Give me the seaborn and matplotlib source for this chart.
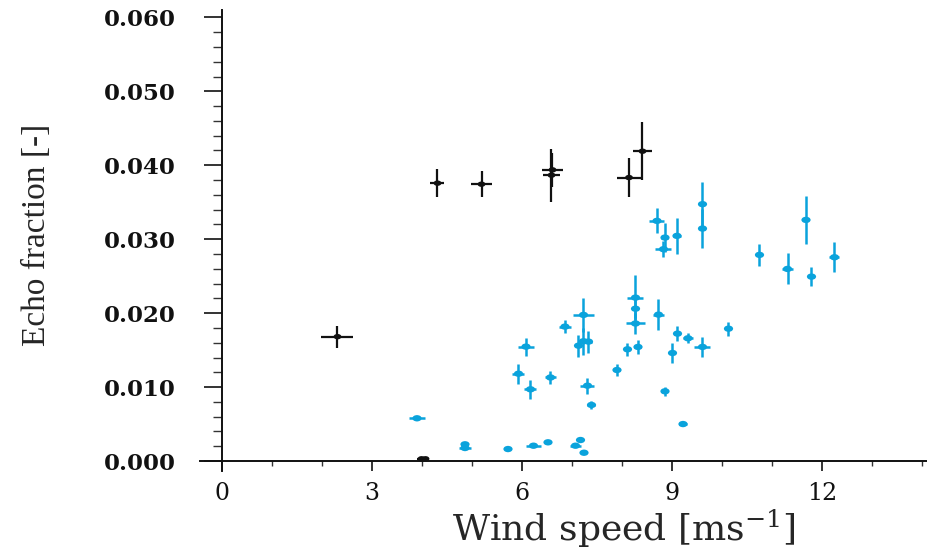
import numpy as np
import pandas as pd
import matplotlib
matplotlib.use("Agg")
import matplotlib.pyplot as plt
from matplotlib.path import Path
from matplotlib.transforms import Affine2D
from matplotlib.ticker import MultipleLocator, FormatStrFormatter
import seaborn as sns

# ---- data: blue series ----
blue_x = [3.90, 4.86, 4.86, 5.72, 5.93, 6.08, 6.17, 6.23, 6.52, 6.57,
          6.86, 7.07, 7.13, 7.17, 7.23, 7.23, 7.33, 7.24, 7.31, 7.39,
          7.90, 8.11, 8.32, 8.27, 8.27, 8.27, 8.70, 8.73, 8.83, 8.86,
          8.86, 9.01, 9.10, 9.11, 9.22, 9.32, 9.61, 9.61, 9.61, 10.13,
          10.75, 11.31, 11.68, 11.79, 12.25]
blue_y = [0.00578, 0.00226, 0.00176, 0.00162, 0.01181, 0.01547, 0.00970, 0.00207, 0.00253, 0.01130,
          0.01818, 0.00207, 0.01560, 0.00284, 0.01976, 0.01620, 0.01615, 0.00112, 0.01019, 0.00758,
          0.01231, 0.01511, 0.01543, 0.02210, 0.02060, 0.01860, 0.03248, 0.01980, 0.02865, 0.03022,
          0.00943, 0.01461, 0.03045, 0.01723, 0.00500, 0.01660, 0.03474, 0.03144, 0.01543, 0.01790,
          0.02788, 0.02598, 0.03261, 0.02494, 0.02756]
blue_xerr = [0.16, 0.05, 0.13, 0.05, 0.12, 0.16, 0.12, 0.15, 0.05, 0.11,
             0.13, 0.11, 0.05, 0.06, 0.21, 0.08, 0.08, 0.05, 0.14, 0.08,
             0.06, 0.06, 0.07, 0.16, 0.06, 0.19, 0.15, 0.12, 0.16, 0.07,
             0.07, 0.06, 0.08, 0.06, 0.07, 0.10, 0.05, 0.05, 0.16, 0.05,
             0.05, 0.12, 0.05, 0.05, 0.10]
blue_yerr = [0.0, 0.0, 0.0, 0.0, 0.00135, 0.0012, 0.0013, 0.0, 0.0, 0.0009,
             0.00085, 0.0, 0.0015, 0.0003, 0.0023, 0.0018, 0.0015, 0.0, 0.0011, 0.0005,
             0.00085, 0.0009, 0.0010, 0.0030, 0.0013, 0.0014, 0.0017, 0.0021, 0.0011, 0.0020,
             0.0006, 0.0014, 0.0024, 0.0010, 0.0, 0.0007, 0.0030, 0.0026, 0.0014, 0.00095,
             0.0015, 0.0021, 0.0032, 0.0013, 0.0020]

# ---- data: black series ----
black_x = [2.31, 3.99, 4.07, 4.31, 5.19, 6.59, 6.61, 8.14, 8.41]
black_y = [0.01682, 0.0003, 0.0003, 0.03758, 0.03744, 0.03866, 0.03938, 0.03834, 0.04190]
black_xerr = [0.32, 0.08, 0.05, 0.14, 0.21, 0.17, 0.21, 0.24, 0.19]
black_yerr = [0.0015, 0.0, 0.0, 0.0019, 0.00176, 0.0036, 0.0023, 0.0026, 0.0039]

x_ticks = [0, 3, 6, 9, 12]
y_ticks = [0.000, 0.010, 0.020, 0.030, 0.040, 0.050, 0.060]

BLUE = "#0aa3dc"
BLACK = "#111111"

sns.set_theme(style="ticks")
plt.rcParams["font.family"] = ["DejaVu Serif"]
plt.rcParams["mathtext.fontset"] = "dejavuserif"

fig = plt.figure(figsize=(9.28, 5.5), dpi=100)
ax = fig.add_axes([200 / 928, 79 / 550, 728 / 928, 461 / 550])

ellipse = Path.unit_circle().transformed(Affine2D().scale(1.45, 1.0))

df_blue = pd.DataFrame({"x": blue_x, "y": blue_y})
df_black = pd.DataFrame({"x": black_x, "y": black_y})

ax.errorbar(blue_x, blue_y, xerr=blue_xerr, yerr=blue_yerr, fmt="none",
            ecolor=BLUE, elinewidth=1.8, capsize=0, zorder=2)
sns.scatterplot(data=df_blue, x="x", y="y", ax=ax, color=BLUE, marker=ellipse,
                s=44, edgecolor="none", linewidth=0, zorder=3, legend=False)
ax.errorbar(black_x, black_y, xerr=black_xerr, yerr=black_yerr, fmt="none",
            ecolor=BLACK, elinewidth=1.6, capsize=0, zorder=4)
sns.scatterplot(data=df_black, x="x", y="y", ax=ax, color=BLACK, marker=ellipse,
                s=32, edgecolor="none", linewidth=0, zorder=5, legend=False)

ax.set_xlim(-0.44, 14.12)
ax.set_ylim(-0.00135, 0.0610)

ax.spines["top"].set_visible(False)
ax.spines["right"].set_visible(False)
ax.spines["left"].set_position(("data", 0))
ax.spines["bottom"].set_position(("data", 0))
for s in ("left", "bottom"):
    ax.spines[s].set_linewidth(1.4)
    ax.spines[s].set_color("#111111")

ax.set_xticks(x_ticks)
ax.set_yticks(y_ticks)
ax.xaxis.set_minor_locator(MultipleLocator(1))
ax.yaxis.set_minor_locator(MultipleLocator(0.002))
ax.yaxis.set_major_formatter(FormatStrFormatter("%.3f"))

ax.tick_params(axis="y", which="major", direction="out", length=13, width=1.2,
               pad=20, labelsize=16.5, colors="#111111")
ax.tick_params(axis="y", which="minor", direction="out", length=6.5, width=1.0, colors="#333333")
ax.tick_params(axis="x", which="major", direction="out", length=7, width=1.2,
               pad=8, labelsize=17, colors="#111111")
ax.tick_params(axis="x", which="minor", direction="out", length=3.5, width=1.0, colors="#333333")
for lbl in ax.get_yticklabels():
    lbl.set_fontweight("bold")

ax.set_xlabel(r"Wind speed [ms$^{\mathregular{-1}}$]", fontsize=26, family="DejaVu Serif")
ax.xaxis.set_label_coords((624 - 200) / 728, -0.08)
ax.set_ylabel("Echo fraction [-]", fontsize=24, family="Liberation Serif")
ax.yaxis.set_label_coords(-(200 - 52) / 728, (471 - 235) / 461)

ax.grid(False)
fig.savefig("out.png", dpi=100)
